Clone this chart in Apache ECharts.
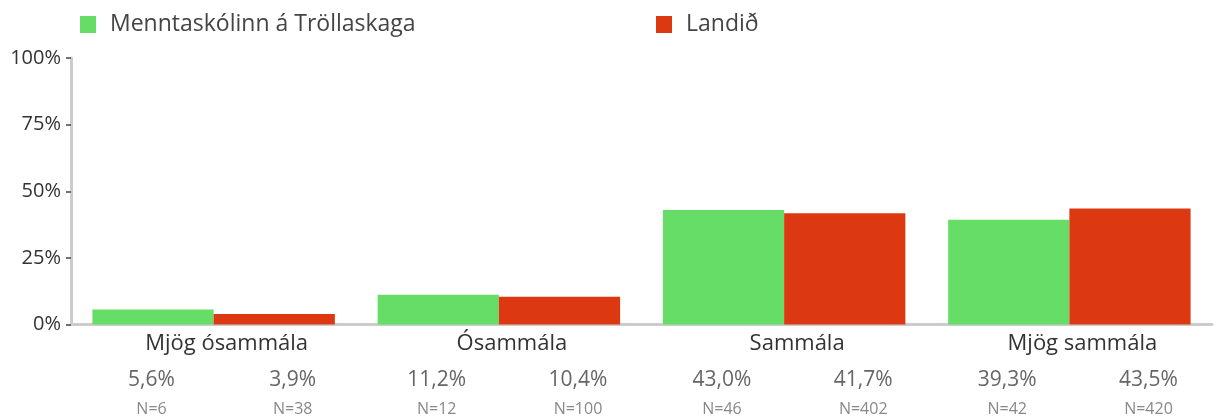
<!DOCTYPE html>
<html>
<head>
<meta charset="utf-8">
<script src="https://cdn.jsdelivr.net/npm/echarts@6/dist/echarts.min.js"></script>
<style>
html,body{margin:0;padding:0;background:#fff;}
#chart{width:1226px;height:419px;}
</style>
</head>
<body>
<div id="chart"></div>
<script>
const categories = ['Mjög ósammála', 'Ósammála', 'Sammála', 'Mjög sammála'];
const seriesNames = ['Menntaskólinn á Tröllaskaga', 'Landið'];
const schoolValues = [5.6, 11.2, 43.0, 39.3];
const countryValues = [3.9, 10.4, 41.7, 43.5];
const schoolN = [6, 12, 46, 42];
const countryN = [38, 100, 402, 420];
const yTicks = [0, 25, 50, 75, 100];

const FONT = '"Open Sans", Lato, sans-serif';
const fmtPct = v => v.toFixed(1).replace('.', ',') + '%';

function barLabel(nArr, dx) {
  return {
    show: true,
    position: 'bottom',
    distance: 0,
    offset: [dx, 41],
    formatter: p => '{p|' + fmtPct(p.value) + '}\n{n|N=' + nArr[p.dataIndex] + '}',
    rich: {
      p: { fontFamily: FONT, fontSize: 21, lineHeight: 30, color: '#666', align: 'center' },
      n: { fontFamily: FONT, fontSize: 16, lineHeight: 28, color: '#888', align: 'center' }
    }
  };
}

const chart = echarts.init(document.getElementById('chart'), null, { renderer: 'canvas' });
chart.setOption({
  animation: false,
  textStyle: { fontFamily: FONT },
  legend: [
    {
      data: [seriesNames[0]], left: 80, top: 13, padding: 0,
      itemWidth: 16, itemHeight: 17, icon: 'rect',
      textStyle: { fontFamily: FONT, fontSize: 23, color: '#444', padding: [0, 0, 0, 9] }
    },
    {
      data: [seriesNames[1]], left: 656, top: 13, padding: 0,
      itemWidth: 16, itemHeight: 17, icon: 'rect',
      textStyle: { fontFamily: FONT, fontSize: 23, color: '#444', padding: [0, 0, 0, 9] }
    }
  ],
  grid: { left: 71, right: 14, top: 58, height: 266.5, containLabel: false },
  xAxis: {
    type: 'category',
    data: categories,
    axisLine: { show: true, lineStyle: { color: '#cccccc', width: 3 } },
    axisTick: { show: false },
    axisLabel: {
      fontFamily: FONT, fontSize: 22, color: '#333', margin: 8,
      padding: [0, 0, 0, 26]
    }
  },
  yAxis: {
    type: 'value',
    min: yTicks[0], max: yTicks[yTicks.length - 1], interval: 25,
    axisLine: { show: true, lineStyle: { color: '#cccccc', width: 3 } },
    axisTick: { show: true, length: 5, lineStyle: { color: '#444', width: 1.5 } },
    splitLine: { show: false },
    axisLabel: { fontFamily: FONT, fontSize: 20, color: '#333', margin: 10, formatter: '{value}%' }
  },
  series: [
    {
      name: seriesNames[0], type: 'bar', data: schoolValues,
      itemStyle: { color: '#66dd66' },
      barGap: '0%', barCategoryGap: '15%',
      label: barLabel(schoolN, -1.5)
    },
    {
      name: seriesNames[1], type: 'bar', data: countryValues,
      itemStyle: { color: '#dc3912' },
      barGap: '0%', barCategoryGap: '15%',
      label: barLabel(countryN, 18.5)
    }
  ]
});
</script>
</body>
</html>
